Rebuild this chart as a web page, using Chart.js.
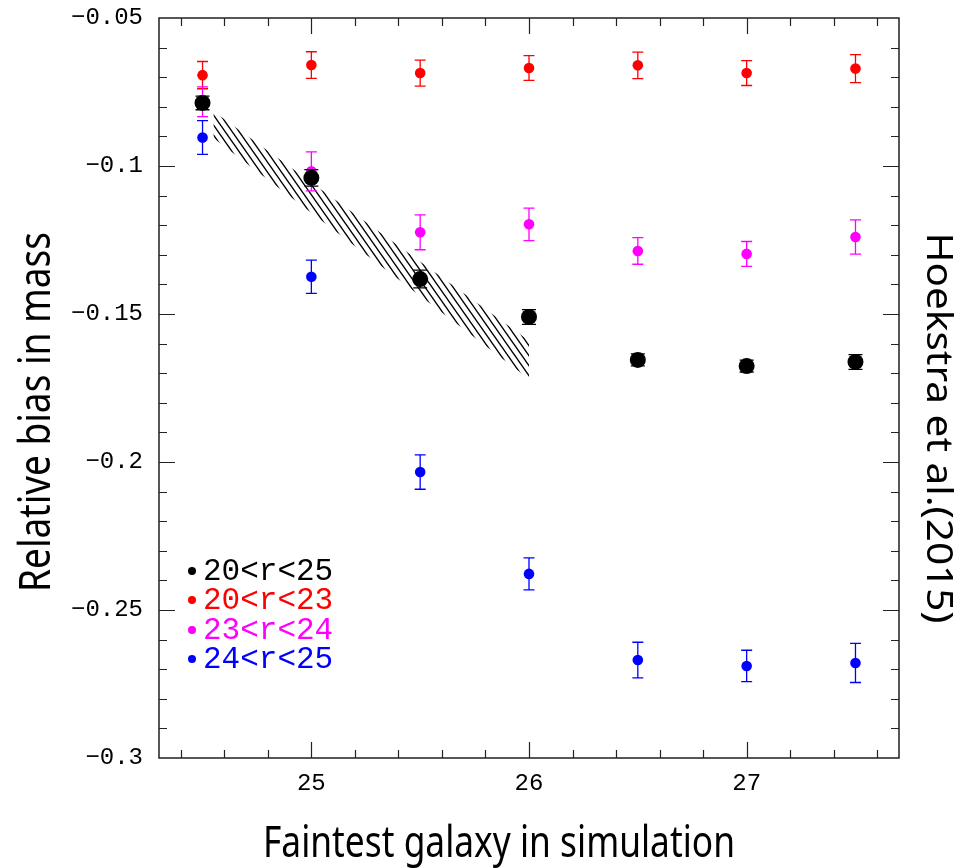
<!DOCTYPE html>
<html><head><meta charset="utf-8">
<script src="https://cdn.jsdelivr.net/npm/chart.js@4/dist/chart.umd.min.js"></script>
<style>html,body{margin:0;padding:0;background:#fff}#wrap{width:965px;height:868px;position:relative}</style>
</head><body><div id="wrap"><canvas id="c" width="965" height="868"></canvas></div>
<script>
// ---- data ----
const magnitudes = [24.5, 25, 25.5, 26, 26.5, 27, 27.5];
const seriesLabels = ['20<r<25', '20<r<23', '23<r<24', '24<r<25'];
const bias_20_25 = [-0.0787, -0.1040, -0.1382, -0.1510, -0.1655, -0.1676, -0.1662];
const err_20_25  = [0.0023, 0.0028, 0.0030, 0.0025, 0.0020, 0.0020, 0.0025];
const bias_20_23 = [-0.0693, -0.0659, -0.0686, -0.0669, -0.0660, -0.0686, -0.0671];
const err_20_23  = [0.0046, 0.0045, 0.0044, 0.0042, 0.0045, 0.0042, 0.0047];
const bias_23_24 = [-0.0783, -0.1018, -0.1224, -0.1197, -0.1287, -0.1297, -0.1240];
const err_23_24  = [0.0050, 0.0066, 0.0059, 0.0055, 0.0045, 0.0042, 0.0058];
const bias_24_25 = [-0.0904, -0.1374, -0.2034, -0.2378, -0.2669, -0.2689, -0.2679];
const err_24_25  = [0.0057, 0.0056, 0.0058, 0.0054, 0.0060, 0.0053, 0.0066];
const bandX     = [24.55, 26.0];
const bandUpper = [-0.0815, -0.1590];
const bandLower = [-0.0905, -0.1720];
const xTicks = [25, 26, 27];
const yTicks = [-0.3, -0.25, -0.2, -0.15, -0.1, -0.05];
const xTitle = 'Faintest galaxy in simulation';
const yTitle = 'Relative bias in mass';
const rightTitle = 'Hoekstra et al.(2015)';

function pts(xs, ys) { return xs.map((x, i) => ({x: x, y: ys[i]})); }

// hatch pattern
function hatch() {
  const w = 7, h = 10;
  const c = document.createElement('canvas'); c.width = w; c.height = h;
  const g = c.getContext('2d');
  g.strokeStyle = '#000'; g.lineWidth = 1.3;
  g.beginPath();
  g.moveTo(-w, -h); g.lineTo(2*w, 2*h);
  g.moveTo(-2*w, -h); g.lineTo(w, 2*h);
  g.moveTo(0, -h); g.lineTo(3*w, 2*h);
  g.stroke();
  return document.getElementById('c').getContext('2d').createPattern(c, 'repeat');
}

const errorBarPlugin = {
  id: 'errbars',
  beforeDatasetDraw(chart, args) {
    const ds = chart.data.datasets[args.index];
    if (!ds.errors) return;
    const ctx = chart.ctx, xs = chart.scales.x, ys = chart.scales.y;
    ctx.save();
    ctx.strokeStyle = ds.backgroundColor; ctx.lineWidth = 1.3;
    ds.data.forEach((p, i) => {
      const px = xs.getPixelForValue(p.x);
      const y1 = ys.getPixelForValue(p.y + ds.errors[i]);
      const y2 = ys.getPixelForValue(p.y - ds.errors[i]);
      const cw = ds.capHalf;
      ctx.beginPath();
      ctx.moveTo(px, y1); ctx.lineTo(px, y2);
      ctx.moveTo(px - cw, y1); ctx.lineTo(px + cw, y1);
      ctx.moveTo(px - cw, y2); ctx.lineTo(px + cw, y2);
      ctx.stroke();
    });
    ctx.restore();
  }
};

const frameTicksPlugin = {
  id: 'frameTicks',
  afterDraw(chart) {
    const ctx = chart.ctx, a = chart.chartArea, xs = chart.scales.x, ys = chart.scales.y;
    ctx.save();
    ctx.strokeStyle = '#111'; ctx.lineWidth = 1.4;
    ctx.strokeRect(a.left, a.top, a.right - a.left, a.bottom - a.top);
    ctx.lineWidth = 1.2; ctx.strokeStyle = '#222';
    ctx.beginPath();
    for (let k = 0; k <= 16; k++) {
      const v = 24.4 + k * 0.2;
      const major = Math.abs(v - Math.round(v)) < 1e-6;
      const L = major ? 16 : 8;
      const px = Math.round(xs.getPixelForValue(v)) + 0.5;
      ctx.moveTo(px, a.bottom); ctx.lineTo(px, a.bottom - L);
      ctx.moveTo(px, a.top); ctx.lineTo(px, a.top + L);
    }
    for (let k = 1; k < 25; k++) {
      const v = -0.3 + k * 0.01;
      const major = (k % 5) === 0;
      const L = major ? 16 : 8;
      const py = Math.round(ys.getPixelForValue(v)) + 0.5;
      ctx.moveTo(a.left, py); ctx.lineTo(a.left + L, py);
      ctx.moveTo(a.right, py); ctx.lineTo(a.right - L, py);
    }
    ctx.stroke();
    ctx.restore();
  }
};

function drawFitText(ctx, text, x, y, rot, font, targetW) {
  ctx.save();
  ctx.translate(x, y); ctx.rotate(rot);
  ctx.font = font;
  const w = ctx.measureText(text).width;
  ctx.scale(targetW / w, 1);
  ctx.textAlign = 'center'; ctx.textBaseline = 'alphabetic';
  ctx.fillStyle = '#000';
  ctx.fillText(text, 0, 0);
  ctx.restore();
}

const textPlugin = {
  id: 'texts',
  afterDraw(chart) {
    const ctx = chart.ctx;
    drawFitText(ctx, xTitle, 499, 857, 0, '44px "Noto Sans"', 472);
    drawFitText(ctx, yTitle, 50, 412, -Math.PI / 2, '43px "Noto Sans"', 360);
    drawFitText(ctx, rightTitle, 927, 428, Math.PI / 2, '36px "Noto Sans"', 391);
    // legend
    const rows = [571, 600, 630, 659];
    const order = [4, 5, 3, 2]; // dataset indices for 20-25, 20-23, 23-24, 24-25
    ctx.save();
    ctx.font = '31px "Liberation Mono"';
    ctx.textBaseline = 'middle'; ctx.textAlign = 'left';
    order.forEach((di, r) => {
      const ds = chart.data.datasets[di];
      ctx.fillStyle = ds.backgroundColor;
      ctx.beginPath(); ctx.arc(192, rows[r], 4, 0, Math.PI * 2); ctx.fill();
      ctx.fillText(ds.label, 203, rows[r] + 1);
    });
    ctx.restore();
  }
};

const ctx = document.getElementById('c').getContext('2d');
new Chart(ctx, {
  type: 'scatter',
  data: {
    datasets: [
      { label: 'band upper', data: pts(bandX, bandUpper), showLine: true, borderWidth: 0, pointRadius: 0,
        backgroundColor: hatch(), borderColor: 'rgba(0,0,0,0)', fill: 1, order: 20 },
      { label: 'band lower', data: pts(bandX, bandLower), showLine: true, borderWidth: 0, pointRadius: 0,
        borderColor: 'rgba(0,0,0,0)', backgroundColor: 'rgba(0,0,0,0)', fill: false, order: 21 },
      { label: seriesLabels[3], data: pts(magnitudes, bias_24_25), errors: err_24_25, capHalf: 5.5,
        backgroundColor: '#0000ff', borderColor: '#0000ff', pointRadius: 5.3, pointBorderWidth: 0, order: 3 },
      { label: seriesLabels[2], data: pts(magnitudes, bias_23_24), errors: err_23_24, capHalf: 5.5,
        backgroundColor: '#ff00ff', borderColor: '#ff00ff', pointRadius: 5.3, pointBorderWidth: 0, order: 4 },
      { label: seriesLabels[0], data: pts(magnitudes, bias_20_25), errors: err_20_25, capHalf: 7,
        backgroundColor: '#000000', borderColor: '#000000', pointRadius: 8, pointBorderWidth: 0, order: 1 },
      { label: seriesLabels[1], data: pts(magnitudes, bias_20_23), errors: err_20_23, capHalf: 5.5,
        backgroundColor: '#ff0000', borderColor: '#ff0000', pointRadius: 5.3, pointBorderWidth: 0, order: 5 }
    ]
  },
  options: {
    responsive: false, animation: false, devicePixelRatio: 1,
    layout: { padding: { top: 18, right: 66, left: 0, bottom: 0 } },
    plugins: { legend: { display: false }, tooltip: { enabled: false } },
    scales: {
      x: {
        type: 'linear', min: 24.3, max: 27.7,
        grid: { display: false, drawTicks: false },
        border: { display: false },
        afterBuildTicks: s => { s.ticks = xTicks.map(v => ({value: v})); },
        afterFit: s => { s.height = 110; s.paddingLeft = 0; s.paddingRight = 0; },
        ticks: { padding: 11, color: '#000', font: { family: 'Liberation Mono', size: 24 },
                 callback: v => String(v), maxRotation: 0 }
      },
      y: {
        type: 'linear', min: -0.3, max: -0.05,
        grid: { display: false, drawTicks: false },
        border: { display: false },
        afterBuildTicks: s => { s.ticks = yTicks.map(v => ({value: v})); },
        afterFit: s => { s.width = 159; s.paddingTop = 0; s.paddingBottom = 0; },
        ticks: { padding: 16, color: '#000', font: { family: 'Liberation Mono', size: 24 },
                 callback: v => String(Math.round(v * 100) / 100).replace('-', '\u2212') }
      }
    }
  },
  plugins: [errorBarPlugin, frameTicksPlugin, textPlugin]
});
</script></body></html>
